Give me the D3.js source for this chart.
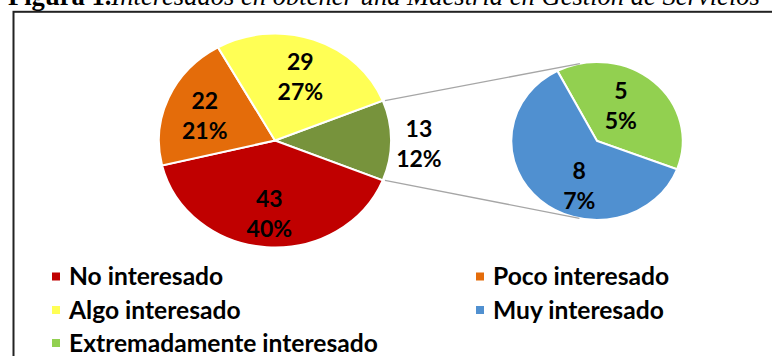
<!DOCTYPE html>
<html>
<head>
<meta charset="utf-8">
<script src="https://cdn.jsdelivr.net/npm/d3@7"></script>
<style>
  html, body { margin: 0; padding: 0; background: #fff; }
  svg { display: block; }
</style>
</head>
<body>
<svg id="chart" width="772" height="356"></svg>
<script>
// Survey categories and counts
const categories = ["No interesado", "Poco interesado", "Algo interesado", "Muy interesado", "Extremadamente interesado"];
const counts = [43, 22, 29, 8, 5];
const percentLabels = ["40%", "21%", "27%", "7%", "5%"];
const colors = ["#C00000", "#E46C0A", "#FFFF55", "#5090D0", "#92D050"];

// Categories grouped into the secondary pie, and the combined slice
const secondaryIdx = [4, 3];
const otherLabel = { count: 13, percent: "12%", color: "#77933C" };

// Legend layout: two columns
const legendOrder = [[0, 1], [2, 3], [4]];

const titleBold = "Figura 1.";
const titleItalic = "Interesados en obtener una Maestría en Gestión de Servicios";

const W = 772, H = 356;
const sx = 1.085;                       // horizontal stretch of the figure
const mainC = { x: 275, y: 140.5 }, mainR = 107;
const subC = { x: 597, y: 141 }, subR = 79;
const subStart = -27.5 * Math.PI / 180;
const labelFont = "Lato, 'Open Sans', sans-serif";

const svg = d3.select("#chart");

// Title (sits above the frame, clipped by the top of the page)
const title = svg.append("text")
  .attr("x", 8).attr("y", 4.5)
  .attr("font-family", "'Liberation Serif', 'Times New Roman', serif")
  .attr("font-size", 20)
  .attr("fill", "#000");
title.append("tspan").attr("font-weight", "bold").text(titleBold);
title.append("tspan").attr("font-style", "italic").text(titleItalic);
{
  const len = title.node().getComputedTextLength();
  title.attr("font-size", 20 * 752 / len);
}

// Frame
svg.append("rect")
  .attr("x", 13.5).attr("y", 11.8)
  .attr("width", 800).attr("height", 400)
  .attr("fill", "none")
  .attr("stroke", "#222")
  .attr("stroke-width", 2);

const g = svg.append("g").attr("transform", `scale(${sx},1)`);
const toX = x => x / sx;

// Main pie: combined slice centred on the right side
const mainData = [
  { label: otherLabel.count, pct: otherLabel.percent, color: otherLabel.color, value: otherLabel.count, other: true },
  ...[0, 1, 2].map(i => ({ label: counts[i], pct: percentLabels[i], color: colors[i], value: counts[i] }))
];
const total = d3.sum(counts);
const otherAngle = 2 * Math.PI * otherLabel.count / total;
const mainStart = Math.PI / 2 - otherAngle / 2;
const mainPie = d3.pie().sort(null).value(d => d.value)
  .startAngle(mainStart).endAngle(mainStart + 2 * Math.PI);
const mainArcs = mainPie(mainData);
const mainArc = d3.arc().innerRadius(0).outerRadius(mainR);

const gm = g.append("g").attr("transform", `translate(${toX(mainC.x)},${mainC.y})`);
gm.selectAll("path").data(mainArcs).join("path")
  .attr("d", mainArc)
  .attr("fill", d => d.data.color)
  .attr("stroke", "#fff")
  .attr("stroke-width", 2)
  .attr("vector-effect", "non-scaling-stroke");

// Secondary pie
const subData = secondaryIdx.map(i => ({ label: counts[i], pct: percentLabels[i], color: colors[i], value: counts[i] }));
const subPie = d3.pie().sort(null).value(d => d.value)
  .startAngle(subStart).endAngle(subStart + 2 * Math.PI);
const subArcs = subPie(subData);
const subArc = d3.arc().innerRadius(0).outerRadius(subR);

const gs = g.append("g").attr("transform", `translate(${toX(subC.x)},${subC.y})`);
gs.selectAll("path").data(subArcs).join("path")
  .attr("d", subArc)
  .attr("fill", d => d.data.color)
  .attr("stroke", "#fff")
  .attr("stroke-width", 2)
  .attr("vector-effect", "non-scaling-stroke");

// Connector lines: tangents from the combined slice corners to the secondary pie
const otherArc = mainArcs[0];
const corner = a => ({ x: toX(mainC.x) + mainR * Math.sin(a), y: mainC.y - mainR * Math.cos(a) });
const C2 = { x: toX(subC.x), y: subC.y };
function tangent(P, sign) {
  const dx = C2.x - P.x, dy = C2.y - P.y;
  const d = Math.hypot(dx, dy);
  const base = Math.atan2(dy, dx);
  const off = Math.asin(subR / d);
  const L = Math.sqrt(d * d - subR * subR);
  const ang = base + sign * off;
  return { x: P.x + L * Math.cos(ang), y: P.y + L * Math.sin(ang) };
}
const P1 = corner(otherArc.startAngle), P2 = corner(otherArc.endAngle);
[[P1, tangent(P1, -1)], [P2, tangent(P2, 1)]].forEach(([a, b]) => {
  g.append("line")
    .attr("x1", a.x + 2).attr("y1", a.y)
    .attr("x2", b.x).attr("y2", b.y)
    .attr("stroke", "#A6A6A6")
    .attr("stroke-width", 1.3)
    .attr("vector-effect", "non-scaling-stroke");
});

// Data labels (count and percentage)
const labels = svg.append("g")
  .attr("font-family", labelFont)
  .attr("font-weight", "bold")
  .attr("font-size", 23)
  .attr("fill", "#000")
  .attr("text-anchor", "middle");

function drawLabel(cx, cy, angle, radius, d) {
  const x = cx + radius * Math.sin(angle) * sx;
  const y = cy - radius * Math.cos(angle);
  const t = labels.append("text").attr("x", x).attr("y", y);
  t.append("tspan").attr("x", x).attr("dy", "-0.15em").text(d.label);
  t.append("tspan").attr("x", x).attr("dy", "1.3em").text(d.pct);
}
mainArcs.forEach(a => {
  const mid = (a.startAngle + a.endAngle) / 2;
  const r = a.data.other ? mainR * 1.24 : mainR * 0.66;
  drawLabel(mainC.x, mainC.y, mid, r, a.data);
});
const subNudge = [-12, -20];
subArcs.forEach((a, i) => {
  const mid = (a.startAngle + a.endAngle) / 2 + subNudge[i] * Math.PI / 180;
  drawLabel(subC.x, subC.y, mid, subR * 0.56, a.data);
});

// Legend
const legend = svg.append("g")
  .attr("font-family", labelFont)
  .attr("font-weight", "bold")
  .attr("font-size", 21)
  .attr("fill", "#000");
const colX = [52, 476], rowY = [276.5, 310, 343];
legendOrder.forEach((row, r) => row.forEach((idx, c) => {
  legend.append("rect")
    .attr("x", colX[c]).attr("y", rowY[r] - 4)
    .attr("width", 8).attr("height", 8)
    .attr("fill", colors[idx]);
  legend.append("text")
    .attr("x", colX[c] + 17).attr("y", rowY[r])
    .attr("dy", "0.35em")
    .text(categories[idx]);
}));
{
  const longest = legend.selectAll("text").filter((d, i, n) => n[i].textContent === categories[4]).node();
  const len = longest.getComputedTextLength();
  legend.attr("font-size", 21 * 309 / len);
}
</script>
</body>
</html>
